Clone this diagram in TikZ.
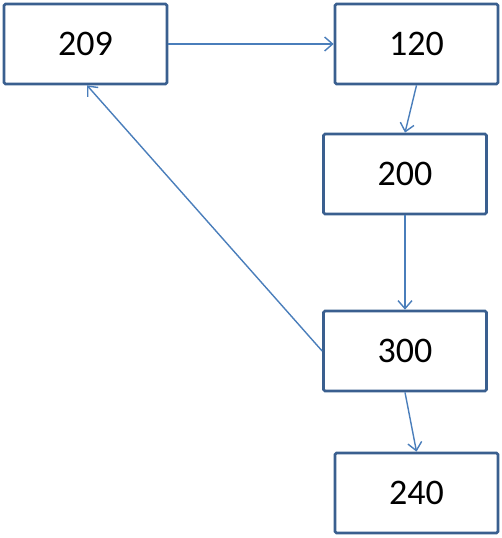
\documentclass[tikz,border=0pt]{standalone}
\usepackage{fontspec}
\setmainfont{Carlito}
\usetikzlibrary{arrows.meta}
\begin{document}
\begin{tikzpicture}[x=1pt,y=-1pt,
  boxst/.style={draw=boxblue,line width=2.7pt,rounded corners=1.5pt,fill=white,
    minimum width=163pt,minimum height=80pt,inner sep=0pt,font=\fontsize{36}{40}\selectfont},
  conn/.style={draw=lineblue,line width=1.4pt,-{Straight Barb[length=8pt,width=14pt,line width=1.4pt]}}]
\definecolor{boxblue}{HTML}{3A5F8F}
\definecolor{lineblue}{HTML}{4A7EBB}
\useasboundingbox (0,0) rectangle (502,538);
\node[boxst] (n209) at (85.5,44) {209};
\node[boxst] (n120) at (416.5,44) {120};
\node[boxst] (n200) at (405,174) {200};
\node[boxst] (n300) at (405,351) {300};
\node[boxst] (n240) at (416.5,493) {240};
\draw[conn] (n209.east) -- (n120.west);
\draw[conn] (n120.south) -- ([xshift=-11.5pt]n120.south |- n200.north);
\draw[conn] (n200.south) -- (n300.north);
\draw[conn] (n300.west) -- ([xshift=1.5pt]n209.south);
\draw[conn] (n300.south) -- ([xshift=11.5pt]n300.south |- n240.north);
\end{tikzpicture}
\end{document}
